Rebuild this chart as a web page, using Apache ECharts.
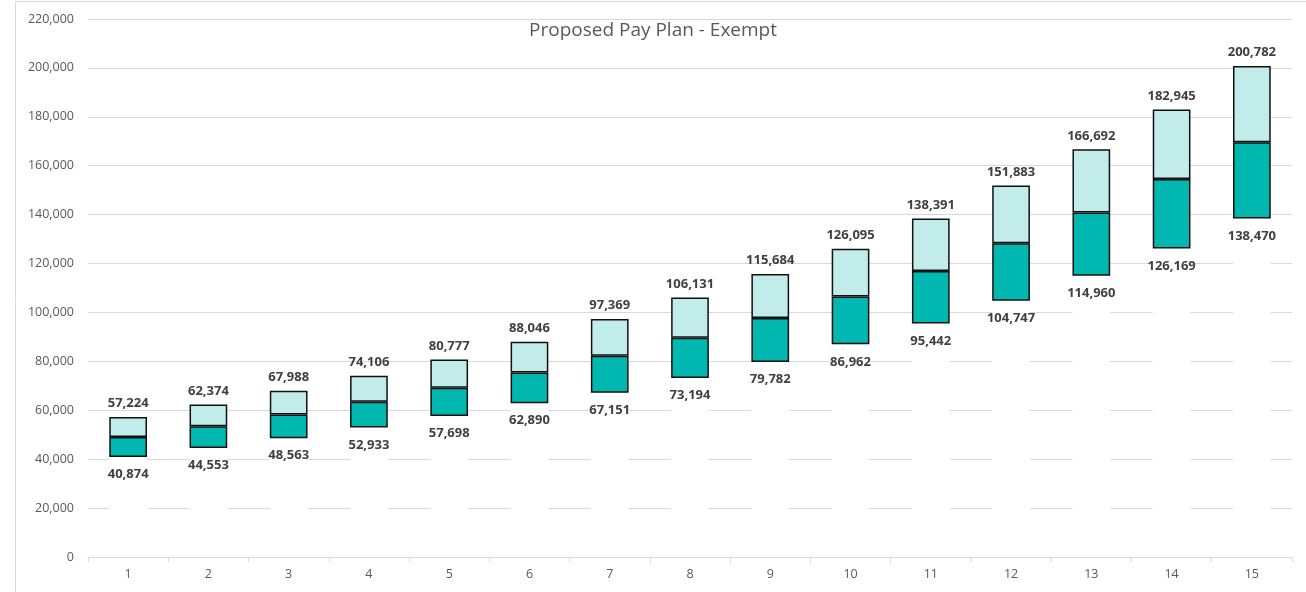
<!DOCTYPE html>
<html>
<head>
<meta charset="utf-8">
<script src="https://cdn.jsdelivr.net/npm/echarts@6/dist/echarts.min.js"></script>
<style>
  html, body { margin: 0; padding: 0; background: #ffffff; }
  #chart { width: 1306px; height: 592px; }
</style>
</head>
<body>
<div id="chart"></div>
<script>
// Pay grades 1..15 with minimum, midpoint and maximum salary
const grades = ['1','2','3','4','5','6','7','8','9','10','11','12','13','14','15'];
const minPay = [40874, 44553, 48563, 52933, 57698, 62890, 67151, 73194, 79782, 86962, 95442, 104747, 114960, 126169, 138470];
const midPay = [49049, 53464, 58276, 63520, 69238, 75468, 82260, 89663, 97733, 106529, 116917, 128315, 140826, 154557, 169626];
const maxPay = [57224, 62374, 67988, 74106, 80777, 88046, 97369, 106131, 115684, 126095, 138391, 151883, 166692, 182945, 200782];
const yTicks = { min: 0, max: 220000, interval: 20000 };

// Stacked segments: white floor up to the minimum, then min→mid and mid→max
const lowerBand = midPay.map((m, i) => m - minPay[i]);
const upperBand = maxPay.map((m, i) => m - midPay[i]);

const fmt = v => v.toLocaleString('en-US');
const labelFont = { fontFamily: 'Open Sans', fontSize: 13, fontWeight: 'bold', color: '#404040' };

const chart = echarts.init(document.getElementById('chart'), null, { renderer: 'canvas' });
chart.setOption({
  animation: false,
  backgroundColor: '#ffffff',
  graphic: [{
    type: 'rect',
    shape: { x: 15.5, y: 1.5, width: 1400, height: 700 },
    style: { fill: 'none', stroke: '#d9d9d9', lineWidth: 1 },
    silent: true,
    z: -10
  }],
  title: {
    text: 'Proposed Pay Plan - Exempt',
    left: 'center',
    top: 16,
    textStyle: { fontFamily: 'Open Sans', fontSize: 19, fontWeight: 'normal', color: '#595959' }
  },
  grid: { left: 88, right: 14, top: 19, bottom: 35 },
  xAxis: {
    type: 'category',
    data: grades,
    boundaryGap: true,
    axisLine: { lineStyle: { color: '#d9d9d9', width: 1 } },
    axisTick: { show: true, length: 5, lineStyle: { color: '#d9d9d9' } },
    axisLabel: { fontFamily: 'Open Sans', fontSize: 12.5, color: '#595959', margin: 11 }
  },
  yAxis: {
    type: 'value',
    min: yTicks.min,
    max: yTicks.max,
    interval: yTicks.interval,
    axisLine: { show: false },
    axisTick: { show: false },
    splitLine: { lineStyle: { color: '#d9d9d9', width: 1 } },
    axisLabel: { fontFamily: 'Open Sans', fontSize: 12.5, color: '#595959', margin: 14, formatter: v => fmt(v) }
  },
  series: [
    {
      name: 'Minimum',
      type: 'bar',
      stack: 'range',
      barWidth: '47%',
      data: minPay,
      itemStyle: { color: '#ffffff', borderWidth: 0 },
      label: {
        show: true,
        position: 'insideTop',
        distance: 11,
        formatter: p => fmt(minPay[p.dataIndex]),
        ...labelFont
      },
      silent: true
    },
    {
      name: 'Min to Mid',
      type: 'bar',
      stack: 'range',
      data: lowerBand,
      itemStyle: { color: '#00b8b0', borderColor: '#111111', borderWidth: 1.5 }
    },
    {
      name: 'Mid to Max',
      type: 'bar',
      stack: 'range',
      data: upperBand,
      itemStyle: { color: '#c1ecea', borderColor: '#111111', borderWidth: 1.5 },
      label: {
        show: true,
        position: 'top',
        distance: 7,
        formatter: p => fmt(maxPay[p.dataIndex]),
        ...labelFont
      }
    }
  ]
});
</script>
</body>
</html>
